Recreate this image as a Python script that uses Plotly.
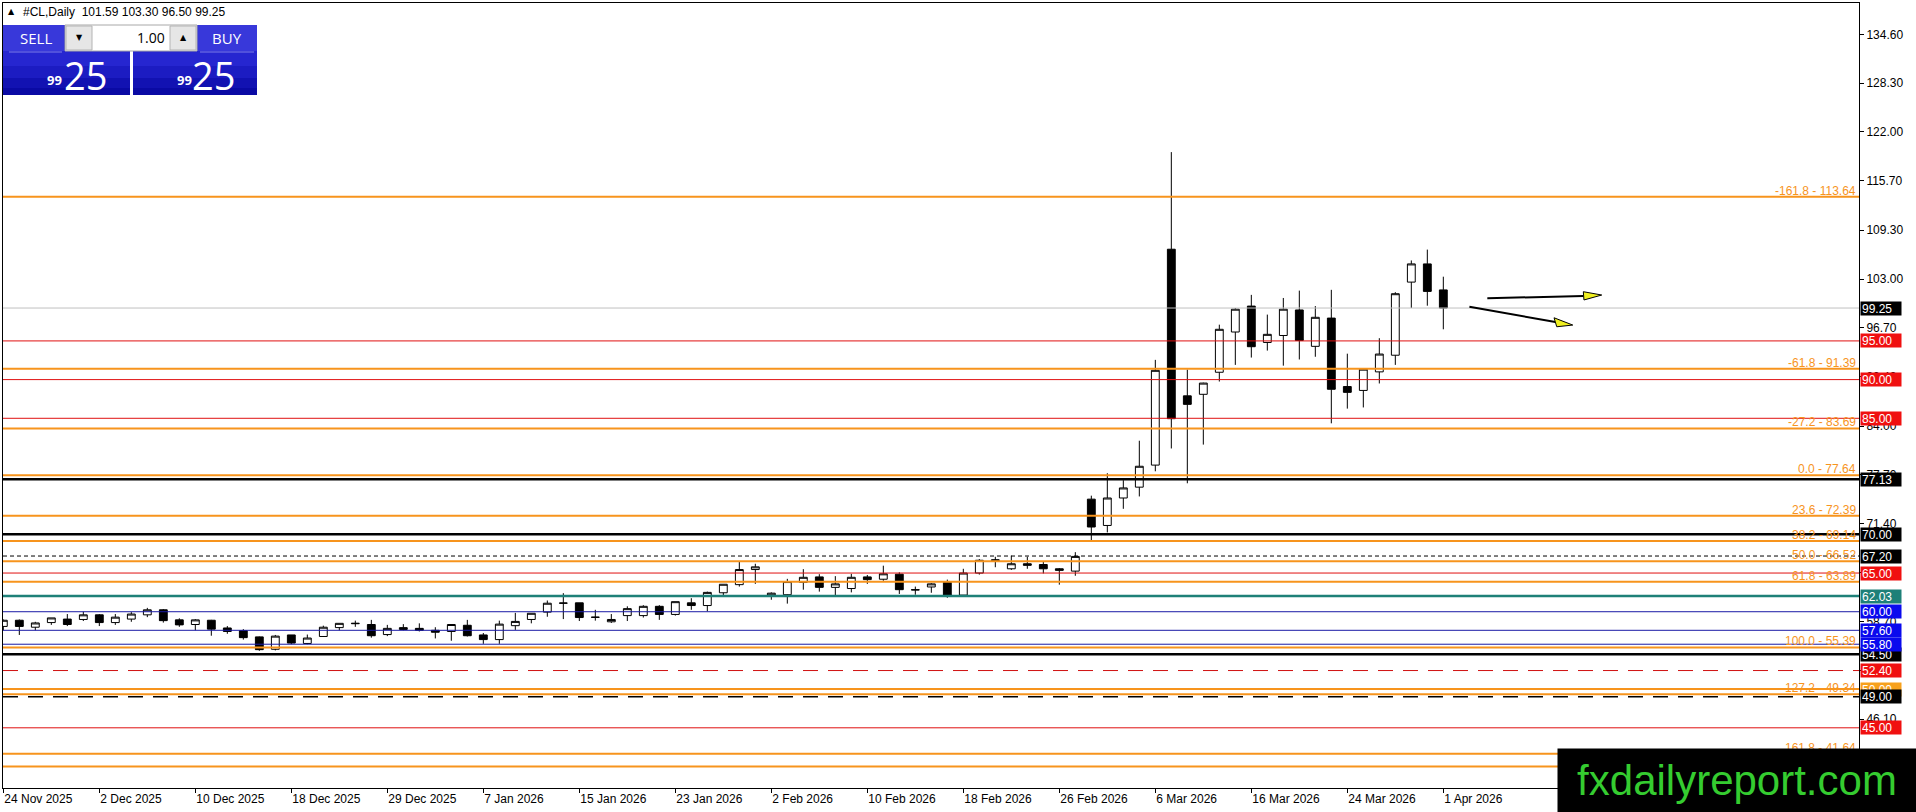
import pandas as pd
import plotly.graph_objects as go

# daily bars 24 Nov 2025 .. 1 Apr 2026 (no bar on 25 Dec and 1 Jan)
opens = [58.1, 58.9, 58.0, 58.6, 59.05, 59.0, 59.6, 58.6, 59.05, 59.6,
         60.25, 58.95, 58.35, 58.9, 57.9, 57.55, 56.75, 55.15, 57.0, 55.9,
         56.8, 57.95, 58.45, 58.35, 57.05, 57.7, 57.85, 57.6, 57.45, 58.25,
         57.0, 56.4, 58.2, 59.0, 59.95, 61.1, 61.15, 59.3, 58.7, 59.5,
         59.5, 60.7, 59.65, 61.15, 60.8, 62.45, 63.5, 65.45, 62.15, 62.2,
         63.8, 64.5, 63.15, 63.0, 64.5, 64.2, 64.85, 62.8, 63.2, 63.8,
         62.15, 65.0, 66.6, 65.55, 66.2, 66.1, 65.55, 65.25, 74.55, 71.15,
         74.7, 76.1, 78.95, 106.85, 87.9, 88.1, 90.95, 96.15, 99.5, 94.8,
         95.7, 99.0, 94.3, 97.95, 89.1, 88.6, 91.0, 93.15, 102.6, 104.95,
         101.59]
highs = [59.0, 59.0, 58.7, 59.2, 59.7, 60.0, 59.7, 59.7, 59.95, 60.5,
         60.35, 59.15, 59.05, 58.95, 58.15, 57.75, 56.8, 57.0, 57.0, 57.05,
         58.2, 58.5, 58.85, 58.95, 58.3, 58.4, 58.5, 58.0, 58.4, 58.95,
         57.25, 58.85, 59.85, 59.8, 61.45, 62.4, 61.15, 60.25, 59.7, 60.7,
         60.85, 60.85, 61.3, 61.75, 62.6, 63.55, 66.45, 66.2, 62.5, 64.25,
         65.5, 64.85, 64.6, 64.9, 64.75, 65.95, 65.1, 63.25, 63.7, 64.15,
         65.55, 66.8, 67.1, 67.25, 67.1, 66.45, 65.65, 67.7, 75.0, 77.9,
         77.0, 82.1, 92.55, 119.4, 91.3, 89.6, 97.1, 99.25, 100.95, 98.4,
         100.55, 101.5, 99.5, 101.6, 93.35, 91.4, 95.35, 101.3, 105.4, 106.8,
         103.30]
lows = [57.6, 57.0, 57.6, 58.3, 58.15, 58.8, 58.15, 58.3, 58.7, 59.3,
        58.6, 58.05, 57.6, 56.9, 57.15, 56.4, 54.95, 55.0, 55.8, 55.8,
        56.8, 57.6, 58.05, 56.65, 56.85, 57.6, 57.45, 56.55, 56.25, 56.8,
        55.85, 55.85, 57.65, 58.5, 59.35, 59.05, 58.8, 58.85, 58.55, 58.8,
        59.25, 58.95, 59.5, 60.25, 60.05, 62.1, 63.25, 63.6, 61.55, 61.05,
        62.85, 62.6, 62.15, 62.5, 63.6, 64.0, 62.3, 62.2, 62.45, 61.8,
        62.1, 64.8, 65.75, 65.4, 65.55, 64.95, 63.5, 64.65, 69.2, 70.25,
        73.3, 74.9, 78.15, 81.1, 76.6, 81.6, 89.75, 91.9, 92.85, 93.75,
        91.8, 92.6, 92.95, 84.35, 86.25, 86.4, 89.5, 91.9, 99.25, 99.55,
        96.50]
closes = [58.9, 58.1, 58.55, 59.2, 58.35, 59.6, 58.6, 59.3, 59.7, 60.25,
          58.85, 58.3, 58.95, 57.75, 57.45, 56.65, 55.1, 56.85, 55.95, 56.6,
          58.0, 58.5, 58.5, 56.9, 57.85, 57.95, 57.6, 57.35, 58.35, 56.9,
          56.4, 58.4, 58.75, 59.8, 61.1, 61.12, 59.25, 59.28, 59.0, 60.4,
          60.7, 59.65, 61.3, 60.8, 62.5, 63.55, 65.45, 65.8, 62.4, 63.9,
          64.45, 63.15, 63.6, 64.45, 64.15, 64.9, 62.85, 62.85, 63.6, 62.1,
          65.0, 66.65, 66.7, 66.2, 66.0, 65.55, 65.35, 67.15, 70.95, 74.7,
          76.0, 78.8, 91.2, 84.95, 86.8, 89.55, 96.5, 99.1, 94.25, 95.85,
          99.1, 95.05, 98.05, 88.75, 88.35, 91.35, 93.3, 101.1, 104.95, 101.4,
          99.25]

date_labels = ["24 Nov 2025", "2 Dec 2025", "10 Dec 2025", "18 Dec 2025",
               "29 Dec 2025", "7 Jan 2026", "15 Jan 2026", "23 Jan 2026",
               "2 Feb 2026", "10 Feb 2026", "18 Feb 2026", "26 Feb 2026",
               "6 Mar 2026", "16 Mar 2026", "24 Mar 2026", "1 Apr 2026"]

price_ticks = [134.60, 128.30, 122.00, 115.70, 109.30, 103.00, 96.70, 90.40,
               84.00, 77.70, 71.40, 65.10, 58.70, 52.40, 46.10, 39.80]

# fibonacci retracement drawn on the chart
fib_ratios = [-161.8, -61.8, -27.2, 0.0, 23.6, 38.2, 50.0, 61.8, 100.0, 127.2, 161.8]
fib_prices = [113.64, 91.39, 83.69, 77.64, 72.39, 69.14, 66.52, 63.89, 55.39, 49.34, 41.64]

# horizontal levels (price, kind)
level_prices = [99.25, 95.00, 90.00, 85.00, 77.13, 70.00, 67.20, 65.00, 62.03,
                60.00, 57.60, 54.50, 55.80, 52.40, 50.00, 49.00, 45.00, 40.00]
level_kinds = ["bid", "red", "red", "red", "black", "black", "dot", "red", "teal",
               "blue", "blue", "black", "blue", "reddash", "orange", "dash", "red", "orange"]

# hand drawn arrows: (bar, price) start -> end, and the triangle heads
arrow_lines = [(92.75, 100.51, 98.76, 100.80), (91.63, 99.42, 97.0, 97.44)]
arrow_heads = [[(98.75, 101.36), (98.79, 100.29), (99.9, 100.93)],
               [(96.92, 97.99), (97.09, 96.83), (98.09, 97.05)]]

symbol = "#CL,Daily"
bid = "99.25"

FONT = "Liberation Sans, Arial, sans-serif"
PANEL_FONT = "Open Sans, Liberation Sans, sans-serif"
ORANGE = "#F7941D"
STYLES = {
    "bid": dict(color="#C0C0C0", width=1, dash="solid", bg="black"),
    "red": dict(color="#E01010", width=1, dash="solid", bg="#F01010"),
    "reddash": dict(color="#D01010", width=1, dash="15px,10px", bg="#F01010"),
    "black": dict(color="black", width=2.5, dash="solid", bg="black"),
    "dot": dict(color="black", width=1, dash="4px,3px", bg="black"),
    "dash": dict(color="black", width=1.5, dash="15px,10px", bg="black"),
    "teal": dict(color="#1E8078", width=2.5, dash="solid", bg="#1E8078"),
    "blue": dict(color="#1A1AA6", width=1, dash="solid", bg="#0A0AEE"),
    "orange": dict(color=ORANGE, width=2, dash="solid", bg="#F7A11D"),
}

W, H = 1916, 812
L, R, T, B = 3, 57, 3, 24
PW, PH = W - L - R, H - T - B


def px(x, y):
    # page pixel -> paper coordinates
    return (x - L) / PW, 1 - (y - T) / PH


bar_dates = [d for d in pd.bdate_range("2025-11-24", "2026-04-01")
             if d.strftime("%m-%d") not in ("12-25", "01-01")]
bar_names = [f"{d.day} {d.strftime('%b %Y')}" for d in bar_dates]
bars = list(range(len(closes)))
tick_bars = [bar_names.index(s) for s in date_labels]

fig = go.Figure(go.Candlestick(
    x=bars, open=opens, high=highs, low=lows, close=closes, text=bar_names,
    increasing=dict(fillcolor="white", line=dict(color="black", width=1)),
    decreasing=dict(fillcolor="black", line=dict(color="black", width=1)),
    whiskerwidth=0, showlegend=False,
))

shapes = []
annotations = []

for price, kind in zip(level_prices, level_kinds):
    st = STYLES[kind]
    shapes.append(dict(type="line", xref="paper", yref="y", x0=0, x1=1, y0=price, y1=price,
                       line=dict(color=st["color"], width=st["width"], dash=st["dash"])))

for ratio, price in zip(fib_ratios, fib_prices):
    shapes.append(dict(type="line", xref="paper", yref="y", x0=0, x1=1, y0=price, y1=price,
                       line=dict(color=ORANGE, width=2)))
    annotations.append(dict(xref="paper", yref="y", x=1, y=price, xanchor="right", yanchor="bottom",
                            xshift=-1, yshift=-3, showarrow=False, text=f"{ratio:.1f} - {price:.2f}",
                            font=dict(family=FONT, size=12, color=ORANGE)))

for price, kind in zip(level_prices, level_kinds):
    annotations.append(dict(xref="paper", yref="y", x=1, y=price, xanchor="left", yanchor="middle",
                            xshift=1, showarrow=False, text=f"{price:.2f}", align="left",
                            bgcolor=STYLES[kind]["bg"], width=38, height=11, borderpad=1,
                            font=dict(family=FONT, size=12, color="white")))

for (x0, y0, x1, y1), head in zip(arrow_lines, arrow_heads):
    shapes.append(dict(type="line", xref="x", yref="y", x0=x0, y0=y0, x1=x1, y1=y1,
                       line=dict(color="black", width=2)))
    path = "M " + " L ".join(f"{x},{y}" for x, y in head) + " Z"
    shapes.append(dict(type="path", xref="x", yref="y", path=path,
                       fillcolor="#F0F020", line=dict(color="black", width=1)))


def rect(x0, y0, x1, y1, fill, line=None):
    a, b = px(x0, y0)
    c, d = px(x1, y1)
    shapes.append(dict(type="rect", xref="paper", yref="paper", x0=a, y0=d, x1=c, y1=b,
                       fillcolor=fill, line=dict(width=1 if line else 0, color=line or fill)))


def label(x, y, text, size, color="white", anchor="center", bold=False, family=PANEL_FONT, **box):
    a, b = px(x, y)
    annotations.append(dict(xref="paper", yref="paper", x=a, y=b, xanchor=anchor, yanchor="middle",
                            showarrow=False, text=f"<b>{text}</b>" if bold else text,
                            font=dict(family=family, size=size, color=color), **box))


# one-click trading panel
for x0, x1 in ((3, 130), (133, 257)):
    rect(x0, 25, x1, 95, "#2626D0")
    rect(x0, 66, x1, 95, "#1C1CC2")
    rect(x0, 78, x1, 95, "#1212B2")
    rect(x0, 88, x1, 95, "#0A0AA4")
rect(3, 25, 64, 51, "#3838DA")
rect(197, 25, 257, 51, "#3838DA")
for x0, x1 in ((9, 62), (200, 254)):
    a, b = px(x0, 52)
    c, _ = px(x1, 52)
    shapes.append(dict(type="line", xref="paper", yref="paper", x0=a, x1=c, y0=b, y1=b,
                       line=dict(color="#7C7CE8", width=1)))
rect(65, 25, 197, 51, "white", "#A8A8A8")
rect(66, 26, 92, 50, "#E6E6E6", "#B4B4B4")
rect(170, 26, 196, 50, "#E6E6E6", "#B4B4B4")
label(36, 38, "SELL", 15)
label(227, 38, "BUY", 15)
label(79, 38, "▼", 8, "black", family="DejaVu Sans")
label(183, 38, "▲", 8, "black", family="DejaVu Sans")
label(167, 38, "1.00", 14, "black", anchor="right")
label(54, 80, bid[:2], 13, bold=True)
label(85, 75, bid[3:], 38)
label(184, 80, bid[:2], 13, bold=True)
label(213, 75, bid[3:], 38)

# chart header
label(6, 12, "▲", 8, "black", anchor="left", family="DejaVu Sans")
label(21, 12, f"{symbol}  {opens[-1]:.2f} {highs[-1]:.2f} {lows[-1]:.2f} {closes[-1]:.2f}",
      12, "black", anchor="left", family=FONT)

# watermark (drawn last so it covers the price labels beneath it)
label(1737, 780.5, "fxdailyreport.com", 42, "#35CC30", family=FONT,
      bgcolor="black", width=358, height=63, borderpad=0)

fig.update_layout(
    width=W, height=H,
    margin=dict(l=L, r=R, t=T, b=B, pad=0),
    paper_bgcolor="white", plot_bgcolor="white",
    font=dict(family=FONT, size=12, color="black"),
    shapes=shapes, annotations=annotations,
    showlegend=False,
    xaxis=dict(range=[-0.02, 115.98], rangeslider=dict(visible=False), showgrid=False, zeroline=False,
               tickvals=tick_bars, ticktext=date_labels, ticks="outside", ticklen=4, tickcolor="black",
               ticklabelposition="outside right", showline=True, linecolor="black", linewidth=1,
               mirror=True, tickfont=dict(family=FONT, size=12, color="black")),
    yaxis=dict(range=[37.22, 138.67], side="right", showgrid=False, zeroline=False,
               tickvals=price_ticks, ticktext=[f"{v:.2f}" for v in price_ticks],
               ticks="outside", ticklen=4, tickcolor="black", showline=True, linecolor="black",
               linewidth=1, mirror=True, tickfont=dict(family=FONT, size=12, color="black")),
)

fig.write_html("out.html", config={"displayModeBar": False},
               post_script="document.body.style.margin='0px';")
